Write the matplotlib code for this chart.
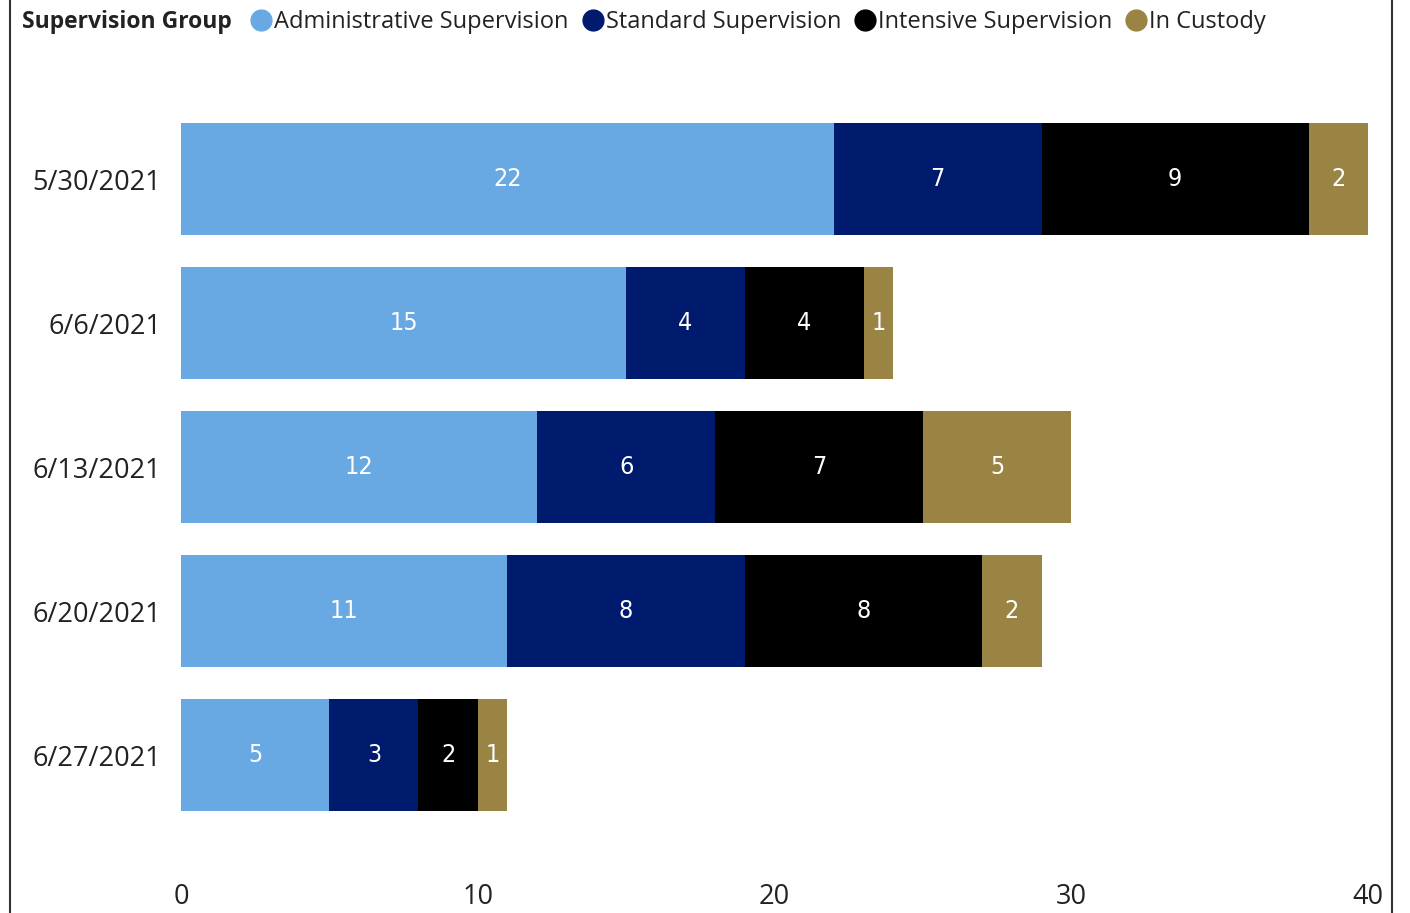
import matplotlib
matplotlib.use("Agg")
import matplotlib.pyplot as plt
from matplotlib.lines import Line2D
import numpy as np

plt.rcParams['font.family'] = ['Open Sans', 'DejaVu Sans']

dates = ["5/30/2021", "6/6/2021", "6/13/2021", "6/20/2021", "6/27/2021"]
groups = ["Administrative Supervision", "Standard Supervision", "Intensive Supervision", "In Custody"]
admin = [22, 15, 12, 11, 5]
standard = [7, 4, 6, 8, 3]
intensive = [9, 4, 7, 8, 2]
custody = [2, 1, 5, 2, 1]
colors = ["#69A9E3", "#001A6E", "#000000", "#998443"]
xticks = [0, 10, 20, 30, 40]

W, H = 1410, 913
fig = plt.figure(figsize=(W / 100, H / 100), dpi=100)
ax = fig.add_axes([181 / W, 86 / H, (1368 - 181) / W, (806 - 86) / H])

y = np.arange(len(dates))
left = np.zeros(len(dates))
for vals, col, name in zip([admin, standard, intensive, custody], colors, groups):
    bars = ax.barh(y, vals, left=left, height=0.78, color=col, label=name)
    ax.bar_label(bars, labels=[str(v) for v in vals], label_type='center',
                 color='white', fontsize=18, family='DejaVu Sans',
                 fontstretch='condensed')
    left += np.array(vals)

ax.set_xlim(0, 40)
ax.set_ylim(4.5, -0.5)
ax.set_yticks(y)
ax.set_yticklabels(dates, fontsize=19.5, color='#222222')
ax.set_xticks(xticks)
ax.set_xticklabels([str(t) for t in xticks], fontsize=19.5, color='#222222')
ax.tick_params(axis='both', length=0)
ax.tick_params(axis='x', pad=40)
ax.tick_params(axis='y', pad=14)
for s in ax.spines.values():
    s.set_visible(False)

# legend
fig.text(22 / W, 1 - 22 / H, "Supervision Group", fontsize=16.5, fontweight='bold',
         va='center', ha='left', color='#222222')
handles = [Line2D([0], [0], marker='o', linestyle='none', markersize=15,
                  markerfacecolor=c, markeredgecolor=c) for c in colors]
fig.legend(handles, groups, loc='center left', bbox_to_anchor=(254 / W, 1 - 22 / H),
           ncol=4, frameon=False, fontsize=17, handlelength=0.6, handletextpad=0.25,
           columnspacing=0.72, borderaxespad=0, borderpad=0, labelcolor='#222222')

# frame lines
fig.add_artist(Line2D([10 / W, 10 / W], [0, 1], color='#333333', lw=1.5))
fig.add_artist(Line2D([1392 / W, 1392 / W], [0, 1], color='#333333', lw=1.5))

fig.savefig("out.png", dpi=100)
